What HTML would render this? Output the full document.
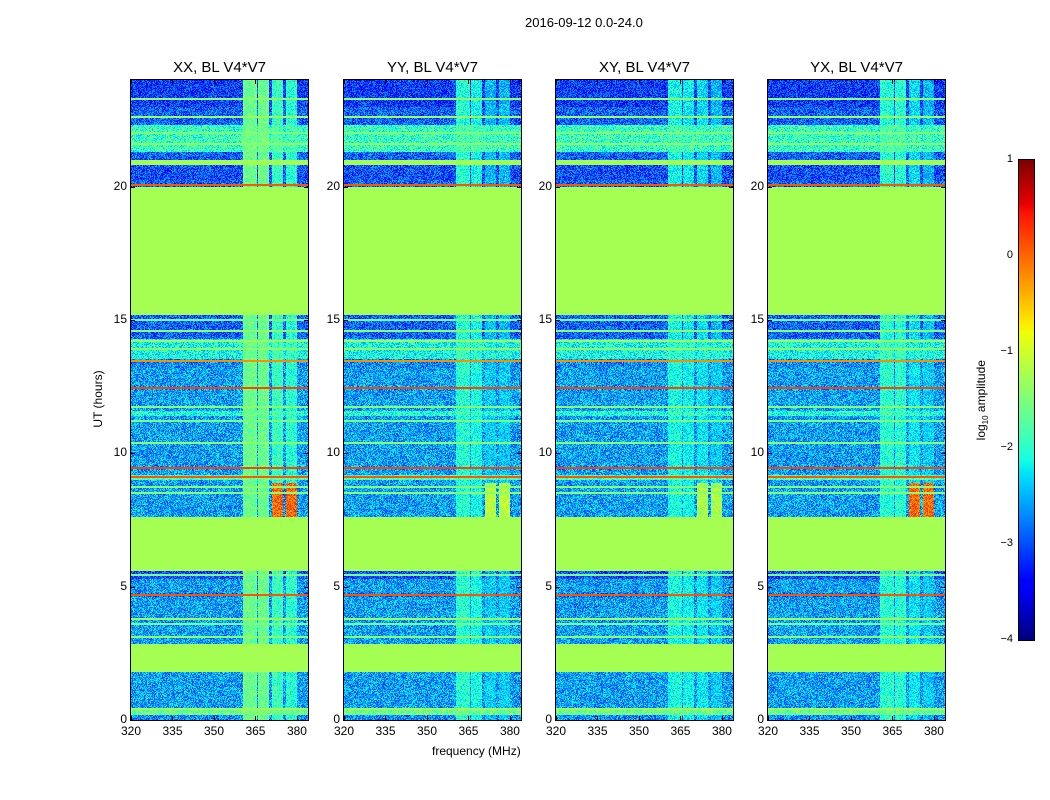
<!DOCTYPE html>
<html><head><meta charset="utf-8"><style>
body{margin:0;background:#fff;width:1050px;height:800px;position:relative;overflow:hidden;font-family:"Liberation Sans",sans-serif;}
.abs{position:absolute;}
canvas{position:absolute;image-rendering:pixelated;}
.frame{position:absolute;border:1px solid #000;box-sizing:border-box;}
.t{position:absolute;font-size:12px;color:#000;white-space:nowrap;}
.title{position:absolute;font-size:15px;text-align:center;width:177px;}
</style></head><body>
<div class="t" style="left:525px;top:15px;font-size:13px;">2016-09-12 0.0-24.0</div>
<div class="t" style="left:58px;top:392px;transform:rotate(-90deg);width:80px;text-align:center;">UT (hours)</div>
<div class="t" style="left:432px;top:744px;">frequency (MHz)</div>
<div id="root"></div>
<canvas id="cb" width="15" height="480" style="left:1019px;top:160px;width:15px;height:480px;"></canvas>
<div class="frame" style="left:1018px;top:159px;width:17px;height:482px;"></div>
<div class="t" style="left:932px;top:392px;transform:rotate(-90deg);width:100px;text-align:center;">log<sub style="font-size:8px">10</sub> amplitude</div>
<script>
const panels=["XX, BL V4*V7","YY, BL V4*V7","XY, BL V4*V7","YX, BL V4*V7"];
const panelX=[131,344,556,768];
const xTicks=[320,335,350,365,380];
const yTicks=[0,5,10,15,20];
const cbTicks=[1,0,-1,-2,-3,-4];
const FLAG=-1.25;
// time segments [startHour,endHour,log10 level]
const segStart=[0,0.2,0.45,1.8,2.85,4.6,4.75,5.3,5.6,7.6,9.0,9.2,9.55,11.4,11.6,13.2,13.55,14.3,15.2,20.0,20.25,20.8,21.0,21.3,22.3,23.0];
const segEnd=[0.2,0.45,1.8,2.85,4.6,4.75,5.3,5.6,7.6,9.0,9.2,9.55,11.4,11.6,13.2,13.55,14.3,15.2,20.0,20.25,20.8,21.0,21.3,22.3,23.0,24];
const segLevel=[-2.7,-1.6,-2.6,FLAG,-2.6,-2.8,-2.6,-3.0,FLAG,-2.6,-1.8,-2.6,-2.6,-2.0,-2.6,-2.7,-2.1,-2.9,FLAG,-2.9,-3.0,FLAG,-2.9,-1.9,-2.9,-3.1];
// thin horizontal lines [hour, level]
const lineHour=[0.4,3.1,3.6,3.8,4.7,5.45,8.5,8.75,9.1,9.45,10.4,11.2,11.75,12.45,13.45,13.9,14.2,14.6,15.0,20.05,21.6,22.0,22.6,23.3];
const lineLevel=[-1.3,-1.4,-1.5,-1.3,0.1,-1.5,-1.4,-1.4,0.1,0.2,-1.4,-1.5,-1.4,0.2,-0.2,-1.4,-1.3,-1.4,-1.5,0.1,-1.4,-1.5,-1.3,-1.4];
// bright channel columns MHz
const colStart=[360.4,365.8,370.9,375.9];
const colEnd=[365.5,369.8,374.9,379.9];
const colLevel=[[-1.6,-1.6,-1.9,-2.0],[-2.0,-2.1,-2.5,-2.5],[-2.1,-2.2,-2.3,-2.5],[-2.0,-2.0,-2.3,-2.5]];
// strong burst 7.6-8.9h in last two columns
const burstLevel=[0.0,-1.1,-1.2,0.0];
const burstStart=7.6, burstEnd=8.9;

function interp(t,pts){for(let i=1;i<pts.length;i++){if(t<=pts[i][0]){const a=pts[i-1],b=pts[i];return a[1]+(b[1]-a[1])*(t-a[0])/(b[0]-a[0]);}}return pts[pts.length-1][1];}
const R=[[0,0],[0.35,0],[0.66,1],[0.89,1],[1,0.5]],G=[[0,0],[0.125,0],[0.375,1],[0.64,1],[0.91,0],[1,0]],B=[[0,0.5],[0.11,1],[0.34,1],[0.65,0],[1,0]];
function jet(v){let t=(v+4)/5;t=Math.max(0,Math.min(1,t));
 return [interp(t,R)*255|0,interp(t,G)*255|0,interp(t,B)*255|0];}
function hash(a,b,c){let h=(a*374761393+b*668265263+c*2147483647)|0;h=(h^(h>>>13))*1274126177|0;h=h^(h>>>16);return ((h>>>0)%10000)/10000;}
const W=177,H=640,x0=320,x1=384,y0=0,y1=24;
const xs=f=>(f-x0)/(x1-x0)*W, ys=h=>H-(h-y0)/(y1-y0)*H;
const root=document.getElementById('root');
panels.forEach((name,p)=>{
 const L=panelX[p];
 const cv=document.createElement('canvas');cv.width=W;cv.height=H;
 cv.style.left=L+'px';cv.style.top='80px';
 
 
 root.appendChild(cv);
 const ctx=cv.getContext('2d');const img=ctx.createImageData(W,H);
 for(let py=0;py<H;py++){
  const hr=y1-(py+0.5)/H*(y1-y0);
  let base=-2.6,flag=false;
  for(let i=0;i<segStart.length;i++)if(hr>=segStart[i]&&hr<segEnd[i]){base=segLevel[i];flag=(base===FLAG);}
  let line=null;
  for(let i=0;i<lineHour.length;i++)if(Math.abs(hr-lineHour[i])<0.04)line=lineLevel[i];
  for(let px=0;px<W;px++){
   const f=x0+(px+0.5)/W*(x1-x0);
   let v;
   if(flag)v=base;
   else{
    v=base+(hash(px,py,p)-0.5)*1.1;
    for(let k=0;k<4;k++)if(f>=colStart[k]&&f<colEnd[k]){
      let cl=colLevel[p][k];
      if(k>=2&&hr>=burstStart&&hr<burstEnd)cl=burstLevel[p];
      v=Math.max(v,cl+(hash(px,py,p+9)-0.5)*0.8);
    }
    if(line!==null)v=line;
   }
   const c=jet(v),o=(py*W+px)*4;img.data[o]=c[0];img.data[o+1]=c[1];img.data[o+2]=c[2];img.data[o+3]=255;
  }
 }
 ctx.putImageData(img,0,0);
 const fr=document.createElement('div');fr.className='frame';
 fr.style.cssText=`left:${L-1}px;top:79px;width:${W+2}px;height:${H+2}px;`;
 
 
 root.appendChild(fr);
 const tt=document.createElement('div');tt.className='title';tt.textContent=name;
 tt.style.left=L+'px';tt.style.top='59px';
 
 
 root.appendChild(tt);
 xTicks.forEach(v=>{
  const x=L+xs(v);
  const lb=document.createElement('div');lb.className='t';lb.textContent=v;
  lb.style.left=(x-10)+'px';lb.style.top='724px';lb.style.width='20px';lb.style.textAlign='center';
  
  
  root.appendChild(lb);
  ['716px','80px'].forEach(t=>{const tk=document.createElement('div');tk.className='abs';tk.style.cssText=`left:${x}px;top:${t};width:1px;height:4px;background:#000`;
  
  
  root.appendChild(tk);});
 });
 yTicks.forEach(v=>{
  const y=80+ys(v);
  const lb=document.createElement('div');lb.className='t';lb.textContent=v;
  lb.style.left=(L-34)+'px';lb.style.top=(y-8)+'px';lb.style.width='30px';lb.style.textAlign='right';
  
  
  root.appendChild(lb);
  [L,L+W-4].forEach(x=>{const tk=document.createElement('div');tk.className='abs';tk.style.cssText=`left:${x}px;top:${y}px;width:4px;height:1px;background:#000`;
  
  
  root.appendChild(tk);});
 });
});
const cb=document.getElementById('cb').getContext('2d');
for(let i=0;i<480;i++){const c=jet(1-i/480*5);cb.fillStyle=`rgb(${c[0]},${c[1]},${c[2]})`;cb.fillRect(0,i,15,1);}
cbTicks.forEach(v=>{
 const y=160+(1-v)/5*480;
 const lb=document.createElement('div');lb.className='t';lb.textContent=(v<0?'\u2212'+(-v):v);
 lb.style.cssText=`left:980px;top:${y-7}px;width:33px;text-align:right;font-size:11px;`;
 
 
 root.appendChild(lb);
});
</script>
</body></html>
